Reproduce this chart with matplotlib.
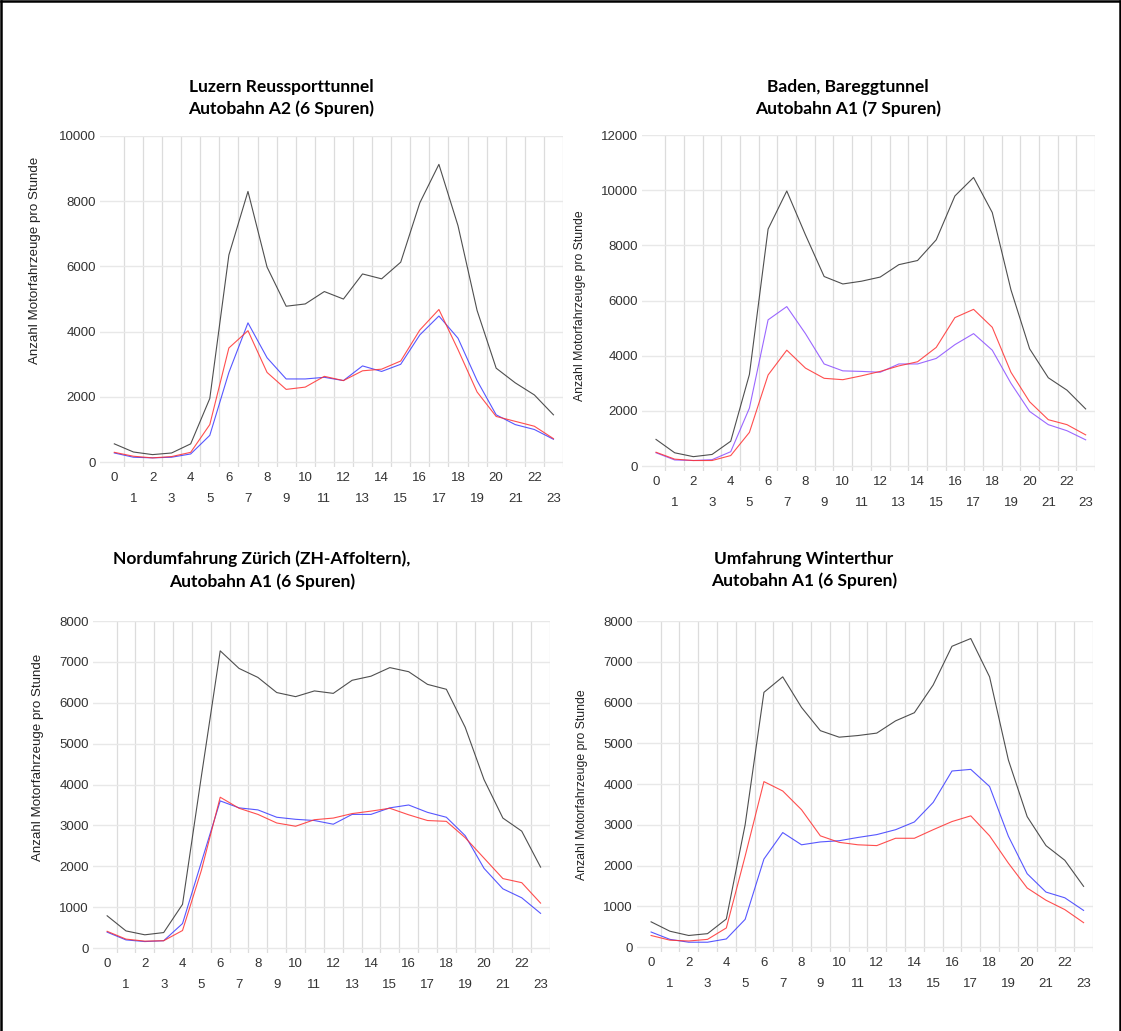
import matplotlib.pyplot as plt
from matplotlib.lines import Line2D

hours = list(range(24))

# Luzern Reussporttunnel
luzern_total = [560, 310, 230, 280, 560, 1950, 6350, 8300, 5980, 4780, 4850, 5230,
                5000, 5770, 5620, 6130, 7950, 9130, 7250, 4650, 2880, 2430, 2060, 1450]
luzern_dir1 = [280, 150, 130, 150, 250, 820, 2750, 4270, 3200, 2550, 2550, 2600,
               2500, 2950, 2780, 3000, 3900, 4480, 3800, 2500, 1450, 1150, 1000, 700]
luzern_dir2 = [300, 180, 130, 170, 300, 1150, 3500, 4030, 2750, 2230, 2300, 2630,
               2500, 2800, 2850, 3100, 4050, 4680, 3450, 2150, 1400, 1250, 1100, 720]

# Baden, Bareggtunnel
baden_total = [965, 480, 340, 420, 900, 3320, 8590, 9970, 8380, 6870, 6600, 6700,
               6850, 7300, 7450, 8200, 9790, 10460, 9190, 6390, 4250, 3200, 2750, 2070]
baden_dir1 = [480, 220, 200, 230, 520, 2100, 5300, 5780, 4800, 3700, 3450, 3430,
              3400, 3700, 3700, 3900, 4400, 4800, 4200, 3000, 1980, 1500, 1280, 950]
baden_dir2 = [500, 250, 200, 200, 380, 1220, 3300, 4200, 3550, 3180, 3130, 3270,
              3430, 3630, 3780, 4300, 5380, 5680, 5030, 3400, 2330, 1680, 1500, 1130]

# Nordumfahrung Zürich
zuerich_total = [790, 420, 325, 380, 1070, 4200, 7270, 6840, 6620, 6250, 6150, 6290,
                 6230, 6550, 6650, 6860, 6760, 6450, 6330, 5400, 4120, 3180, 2860, 1980]
zuerich_dir1 = [390, 200, 160, 180, 600, 2100, 3600, 3430, 3380, 3200, 3150, 3120,
                3030, 3270, 3270, 3430, 3500, 3320, 3200, 2750, 1950, 1450, 1230, 850]
zuerich_dir2 = [410, 220, 170, 180, 430, 1900, 3690, 3420, 3270, 3060, 2980, 3140,
                3180, 3290, 3350, 3420, 3260, 3120, 3100, 2700, 2200, 1700, 1600, 1100]

# Umfahrung Winterthur
winti_total = [620, 390, 285, 330, 690, 3000, 6250, 6630, 5880, 5310, 5150, 5190,
               5250, 5550, 5750, 6430, 7380, 7570, 6630, 4590, 3200, 2490, 2130, 1490]
winti_dir1 = [370, 190, 120, 120, 200, 680, 2160, 2810, 2510, 2580, 2610, 2690,
              2760, 2880, 3070, 3550, 4320, 4360, 3940, 2720, 1800, 1350, 1210, 900]
winti_dir2 = [285, 170, 150, 190, 470, 2230, 4060, 3830, 3370, 2730, 2570, 2510,
              2490, 2670, 2670, 2880, 3080, 3220, 2730, 2060, 1450, 1150, 920, 600]

titles = ["Luzern Reussporttunnel\nAutobahn A2 (6 Spuren)",
          "Baden, Bareggtunnel\nAutobahn A1 (7 Spuren)",
          "Nordumfahrung Zürich (ZH-Affoltern),\nAutobahn A1 (6 Spuren)",
          "Umfahrung Winterthur\nAutobahn A1 (6 Spuren)"]
y_max = [10000, 12000, 8000, 8000]
y_step = [2000, 2000, 1000, 1000]

W, H = 1121, 1031
fig = plt.figure(figsize=(W / 100, H / 100), dpi=100)
fig.patch.set_facecolor("white")

# pixel boxes (left, top, right, bottom) of the plotting areas
boxes = [(100, 136, 563, 467), (642, 135, 1095, 471),
         (93, 621, 550, 953), (637, 621, 1093, 952)]
title_pos = [(281, 98), (848, 98), (262, 570), (804, 570)]
ylabel_pos = [(35, 260), (580, 306), (38, 757), (582, 785)]
ylabel_size = [9.6, 8.8, 9.6, 8.8]

panels = [(luzern_total, luzern_dir1, luzern_dir2, "#3a3aff"),
          (baden_total, baden_dir1, baden_dir2, "#8a4dff"),
          (zuerich_total, zuerich_dir1, zuerich_dir2, "#3a3aff"),
          (winti_total, winti_dir1, winti_dir2, "#3a3aff")]

for i, (total, d1, d2, blue) in enumerate(panels):
    l, t, r, b = boxes[i]
    ax = fig.add_axes([l / W, 1 - b / H, (r - l) / W, (b - t) / H])
    ax.set_xlim(-0.75, 23.5)
    ax.set_ylim(-y_max[i] * 0.015, y_max[i])

    for h in hours:
        ax.axvline(h + 0.5, color="#dcdcdc", lw=0.9, zorder=0)
    for v in range(0, y_max[i] + 1, y_step[i]):
        ax.axhline(v, color="#e8e8e8", lw=1.0, zorder=0)

    ax.plot(hours, total, color="#3c3c3c", lw=0.8, alpha=0.9)
    ax.plot(hours, d1, color=blue, lw=0.8, alpha=0.85)
    ax.plot(hours, d2, color="#ff3030", lw=0.8, alpha=0.85)

    for s in ax.spines.values():
        s.set_visible(False)
    ax.set_yticks(range(0, y_max[i] + 1, y_step[i]))
    ax.set_xticks(hours[::2])
    ax.set_xticks(hours[1::2], minor=True)
    ax.set_xticklabels([str(h) for h in hours[::2]])
    ax.set_xticklabels([str(h) for h in hours[1::2]], minor=True)
    ax.tick_params(axis="both", which="both", length=0, labelsize=9.5,
                   labelcolor="#333333")
    ax.tick_params(axis="x", which="major", pad=3.5)
    ax.tick_params(axis="x", which="minor", pad=18.5)
    ax.tick_params(axis="y", pad=3)
    for lab in ax.get_xticklabels() + ax.get_xticklabels(minor=True) + ax.get_yticklabels():
        lab.set_family(["Liberation Sans", "DejaVu Sans"])

    fig.text(title_pos[i][0] / W, 1 - title_pos[i][1] / H, titles[i],
             ha="center", va="center", fontsize=12.5, fontweight="bold",
             family=["Lato", "DejaVu Sans"], linespacing=1.45)
    fig.text(ylabel_pos[i][0] / W, 1 - ylabel_pos[i][1] / H,
             "Anzahl Motorfahrzeuge pro Stunde", rotation=90,
             ha="center", va="center", fontsize=ylabel_size[i], color="#222222",
             family=["Liberation Sans", "DejaVu Sans"])

# frame around the page (bottom edge is cut off)
for xs, ys in [([0.001, 0.001], [0, 0.999]), ([0.999, 0.999], [0, 0.999]),
               ([0.001, 0.999], [0.999, 0.999])]:
    fig.add_artist(Line2D(xs, ys, color="black", lw=1.8, transform=fig.transFigure))

fig.savefig("out.png", dpi=100)
